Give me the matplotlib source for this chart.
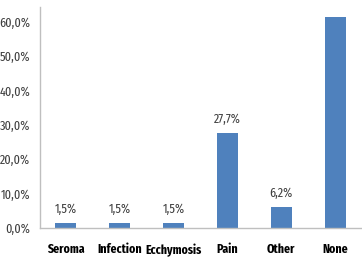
import numpy as np
import matplotlib
matplotlib.use('Agg')
from matplotlib import pyplot as plt

categories = ["Seroma", "Infection", "Ecchymosis", "Pain", "Other", "None"]
values = [1.5, 1.5, 1.5, 27.7, 6.2, 61.6]
shown_labels = ["1,5%", "1,5%", "1,5%", "27,7%", "6,2%", ""]
yticks = [0, 10, 20, 30, 40, 50, 60]

plt.rcParams['font.family'] = ['Fira Sans Extra Condensed', 'DejaVu Sans']

TXT = '#404040'
fig = plt.figure(figsize=(3.62, 2.58), dpi=100)
ax = fig.add_axes([40/362, 30/258, 322/362, 221/258])

x = np.arange(len(categories))
ax.bar(x, values, width=0.39, color='#4F81BD')
for xi, v, lab in zip(x, values, shown_labels):
    if lab:
        ax.text(xi, v + 2.2, lab, ha='center', va='bottom', fontsize=9.5, color=TXT)

ax.set_xlim(-0.48, 5.5)
ax.set_ylim(0, 64.4)
ax.set_yticks(yticks)
ax.set_yticklabels([f"{t:.1f}%".replace('.', ',') for t in yticks], fontsize=9.5, color=TXT)
ax.set_xticks(x)
ax.set_xticklabels(categories, fontsize=9.2, fontweight='bold', color='black')
ax.tick_params(axis='both', length=0)
ax.tick_params(axis='y', pad=7)
ax.tick_params(axis='x', pad=11)
for s in ['top', 'right']:
    ax.spines[s].set_visible(False)
for s in ['left', 'bottom']:
    ax.spines[s].set_color('#BFBFBF')
    ax.spines[s].set_linewidth(1.0)

fig.savefig('out.png', dpi=100)
